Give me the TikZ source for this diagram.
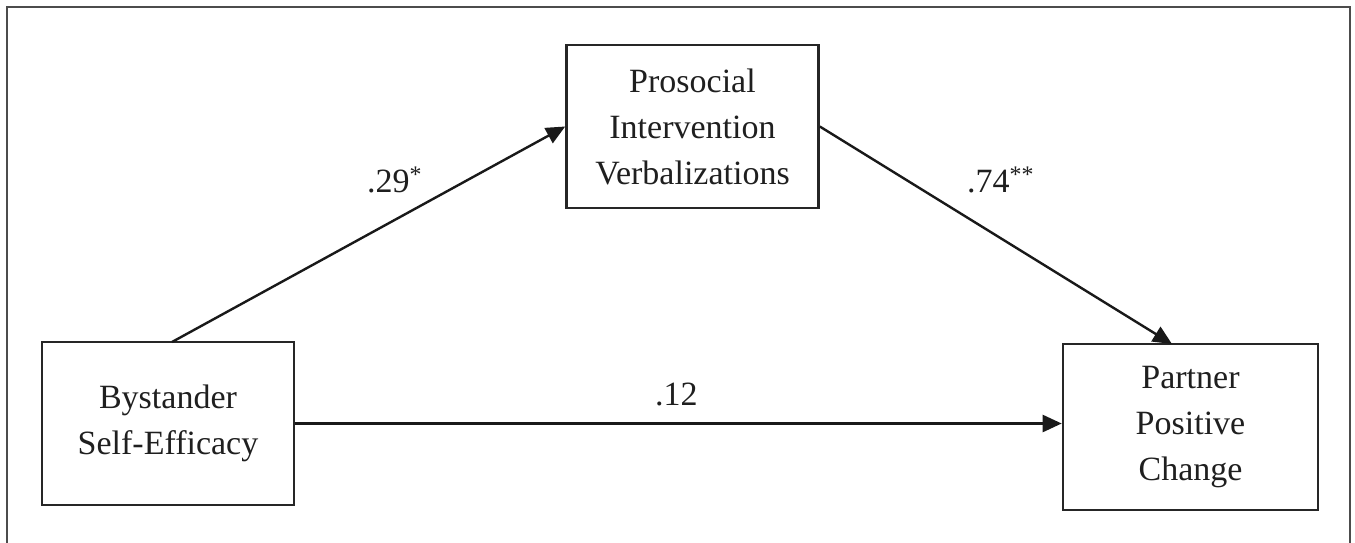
\documentclass[tikz,border=0pt]{standalone}
\usepackage{fontspec}
\setmainfont{Liberation Serif}
\usetikzlibrary{arrows.meta}
\begin{document}
\begin{tikzpicture}[x=1pt,y=-1pt,
  varbox/.style={draw=black!85,line width=2.6pt,align=center,inner sep=0pt,
    minimum width=252pt,text=black!88,font=\fontsize{34}{46}\selectfont},
  path/.style={draw=black!90,line width=2.4pt,-{Triangle[length=19pt,width=17pt]}},
  coef/.style={font=\fontsize{34}{40}\selectfont,inner sep=0pt,text=black!88,anchor=base west}]
\useasboundingbox (0,0) rectangle (1355,542);
\draw[line width=2.2pt,black!70] (7,546) -- (7,7) -- (1350,7) -- (1350,546);
\node[varbox,minimum height=163pt] (pro) at (692.5,126.5)
  {Prosocial\\Intervention\\Verbalizations};
\node[varbox,minimum height=163pt] (bys) at (168,423.5)
  {Bystander\\Self-Efficacy};
\node[varbox,minimum width=255pt,minimum height=166pt] (par) at (1190.5,427)
  {Partner\\Positive\\Change};
\coordinate (bt) at (172,342);
\coordinate (pt) at (1172,344);
\draw[path] (bt) -- (pro.west);
\draw[path] (pro.east) -- (pt);
\draw[path] (bys.east) -- (bys.east -| par.west);
\node[coef] (c1) at (367,192) {.29\textsuperscript{*}};
\node[coef] (c2) at (967,192) {.74\textsuperscript{**}};
\node[coef] (c3) at (655,405) {.12};
\end{tikzpicture}
\end{document}
